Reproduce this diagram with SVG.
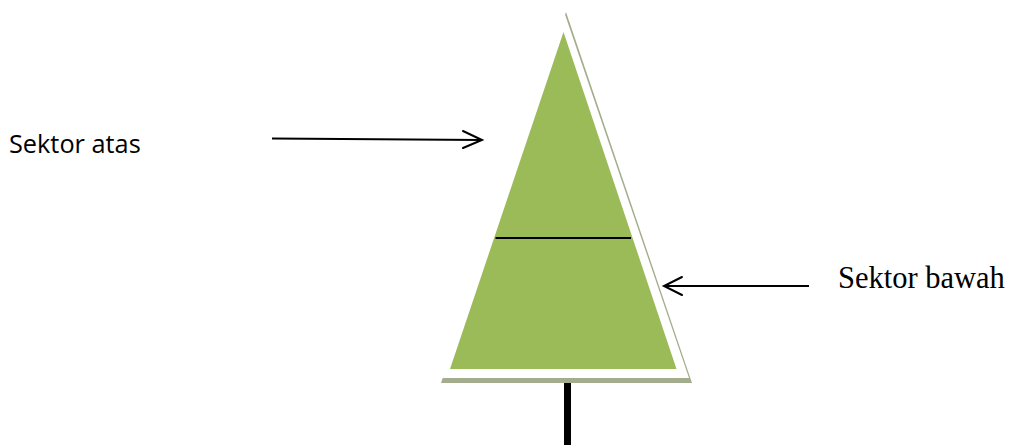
<svg xmlns="http://www.w3.org/2000/svg" width="1013" height="445" viewBox="0 0 1013 445">
<style>
.arrow{stroke:#000;stroke-width:2;fill:none}
.head{stroke:#000;stroke-width:2;fill:none;stroke-linecap:round;stroke-linejoin:miter}
</style>
<rect width="1013" height="445" fill="#fff"/>
<g id="trunk">
<rect x="564" y="378" width="7" height="67" fill="#000"/>
</g>
<g id="tree">
<polygon points="566,12 692,383 441,383" fill="#a3ad8d"/>
<polygon points="564.5,13 689,378 438,378" fill="#fff"/>
<polygon points="563.5,32 676.5,369 450,369" fill="#9bbb59"/>
<line x1="495.5" y1="238" x2="631" y2="238" stroke="#000" stroke-width="2"/>
</g>
<g id="label-atas">
<text x="9" y="153" font-family="Open Sans, Liberation Sans, sans-serif" font-size="25.3" fill="#000">Sektor atas</text>
</g>
<g id="label-bawah">
<text x="838" y="288" font-family="Liberation Serif, serif" font-size="30.5" fill="#000">Sektor bawah</text>
</g>
<g id="connectors">
<line class="arrow" x1="272" y1="138.5" x2="482" y2="140"/>
<polyline class="head" points="463,131 482,140 463,148"/>
<line class="arrow" x1="809" y1="286" x2="664" y2="286"/>
<polyline class="head" points="682,277 664,286 682,295"/>
</g>
</svg>
